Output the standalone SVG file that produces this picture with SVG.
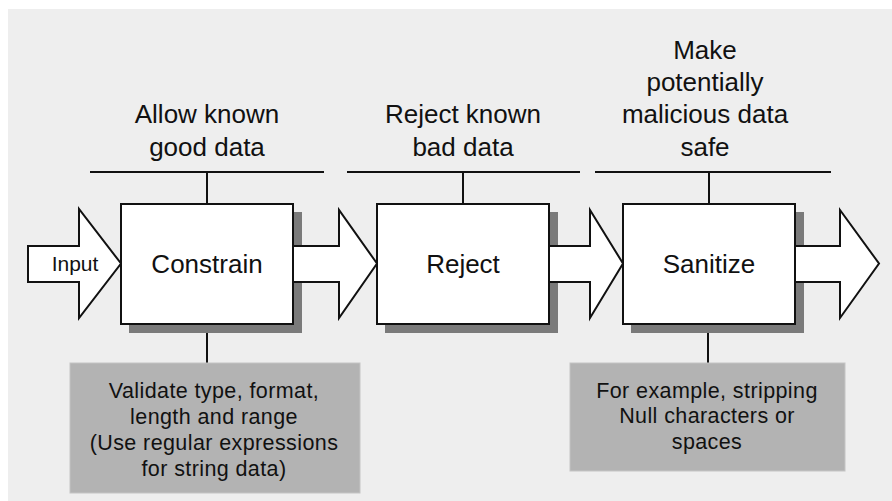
<svg xmlns="http://www.w3.org/2000/svg" width="892" height="501" viewBox="0 0 892 501">
<style>
.bg{fill:#eeeeee}
.box{fill:#ffffff;stroke:#111;stroke-width:2}
.shadow{fill:#7a7a7a}
.arrow{fill:#ffffff;stroke:#111;stroke-width:2;stroke-linejoin:miter}
.line{stroke:#111;stroke-width:2;fill:none}
.note{fill:#b3b3b3;stroke:#c4c4c4;stroke-width:1}
text{font-family:"Liberation Sans",Arial,sans-serif;fill:#111;text-anchor:middle}
.lbl{font-size:26px}
.small{font-size:21px}
.nt{font-size:21.5px;letter-spacing:0.4px}
</style>
<rect class="bg" x="8" y="9" width="884" height="492"/>
<g id="connectors">
<line class="line" x1="90" y1="172" x2="324" y2="172"/>
<line class="line" x1="207" y1="172" x2="207" y2="204"/>
<line class="line" x1="347" y1="172" x2="580" y2="172"/>
<line class="line" x1="463" y1="172" x2="463" y2="204"/>
<line class="line" x1="595" y1="172" x2="831" y2="172"/>
<line class="line" x1="709" y1="172" x2="709" y2="204"/>
<line class="line" x1="207" y1="324" x2="207" y2="363"/>
<line class="line" x1="708" y1="324" x2="708" y2="363"/>
</g>
<g id="labels">
<text class="lbl" x="207" y="123">Allow known</text>
<text class="lbl" x="207" y="156">good data</text>
<text class="lbl" x="463" y="123">Reject known</text>
<text class="lbl" x="463" y="156">bad data</text>
<text class="lbl" x="705" y="59">Make</text>
<text class="lbl" x="705" y="91">potentially</text>
<text class="lbl" x="705" y="123">malicious data</text>
<text class="lbl" x="705" y="156">safe</text>
</g>
<g id="shadows">
<rect class="shadow" x="129" y="212" width="173" height="121"/>
<rect class="shadow" x="385" y="212" width="173" height="121"/>
<rect class="shadow" x="631" y="212" width="173" height="121"/>
</g>
<g id="input">
<path class="arrow" d="M28,246 H79 V209 L121,263.5 L79,318 V282 H28 Z"/>
<text class="small" x="75" y="271">Input</text>
</g>
<g id="arrows">
<path class="arrow" d="M293,246 H339 V210 L377,263.5 L339,318 V282 H293 Z"/>
<path class="arrow" d="M549,246 H590 V210 L623,263.5 L590,318 V282 H549 Z"/>
<path class="arrow" d="M795,246 H840 V210 L879,263.5 L840,318 V282 H795 Z"/>
</g>
<g id="constrain">
<rect class="box" x="121" y="204" width="172" height="120"/>
<text class="lbl" x="207" y="273">Constrain</text>
</g>
<g id="reject">
<rect class="box" x="377" y="204" width="172" height="120"/>
<text class="lbl" x="463" y="273">Reject</text>
</g>
<g id="sanitize">
<rect class="box" x="623" y="204" width="172" height="120"/>
<text class="lbl" x="709" y="273">Sanitize</text>
</g>
<g id="note-constrain">
<rect class="note" x="70" y="363" width="290" height="130"/>
<text class="nt" x="214" y="398">Validate type, format,</text>
<text class="nt" x="214" y="424">length and range</text>
<text class="nt" x="214" y="450">(Use regular expressions</text>
<text class="nt" x="214" y="476">for string data)</text>
</g>
<g id="note-sanitize">
<rect class="note" x="570" y="363" width="275" height="108"/>
<text class="nt" x="707" y="398">For example, stripping</text>
<text class="nt" x="707" y="423">Null characters or</text>
<text class="nt" x="707" y="449">spaces</text>
</g>
</svg>
